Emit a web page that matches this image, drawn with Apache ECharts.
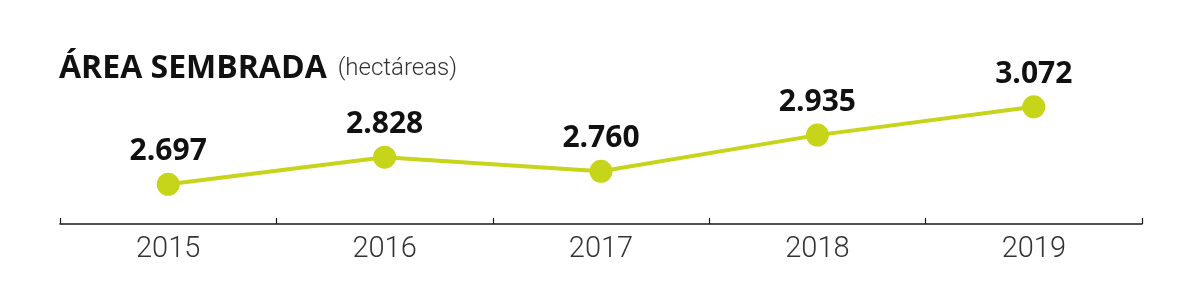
<!DOCTYPE html>
<html><head><meta charset="utf-8">
<script src="https://cdn.jsdelivr.net/npm/echarts@6/dist/echarts.min.js"></script>
<style>html,body{margin:0;padding:0;background:#fff}#c{width:1186px;height:301px}</style>
</head><body><div id="c"></div>
<script>
const titleMain = 'ÁREA SEMBRADA';
const titleUnit = '(hectáreas)';
const years = ['2015', '2016', '2017', '2018', '2019'];
const areaValues = [2697, 2828, 2760, 2935, 3072];

const chart = echarts.init(document.getElementById('c'));
const fmt = v => (v / 1000).toFixed(3);
chart.setOption({
  backgroundColor: '#ffffff',
  animation: false,
  title: {
    text: '{a|' + titleMain + '}{g|}{b|' + titleUnit + '}',
    left: 54, top: 48,
    textStyle: {
      rich: {
        a: { fontFamily: 'Open Sans', fontWeight: 'bold', fontSize: 32, color: '#111' },
        g: { width: 11 },
        b: { fontFamily: 'Roboto', fontWeight: 300, fontSize: 24, color: '#333' }
      }
    }
  },
  grid: { left: 60, right: 44, top: 101, bottom: 77 },
  xAxis: {
    type: 'category',
    data: years,
    boundaryGap: true,
    axisLine: { lineStyle: { color: '#1a1a1a', width: 1.5 } },
    axisTick: { show: true, inside: true, length: 6, interval: 0, lineStyle: { color: '#1a1a1a', width: 1.2 } },
    axisLabel: { fontFamily: 'Roboto', fontWeight: 300, fontSize: 29, color: '#333', margin: 11 }
  },
  yAxis: { type: 'value', min: 2505, max: 3100, show: false, splitLine: { show: false } },
  series: [{
    type: 'line',
    data: areaValues,
    symbol: 'circle',
    symbolSize: 23,
    itemStyle: { color: '#c6d41a' },
    lineStyle: { color: '#c6d41a', width: 4 },
    label: {
      show: true, position: 'top', distance: 6,
      formatter: p => fmt(p.value),
      fontFamily: 'Open Sans', fontWeight: 'bold', fontSize: 30, color: '#111'
    }
  }]
});
</script></body></html>
